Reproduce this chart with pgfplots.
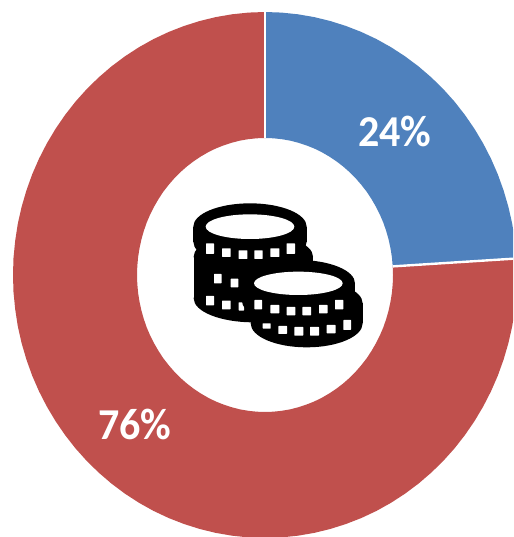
\documentclass[border=0pt]{standalone}
\usepackage{pgfplots}
\usepackage{fontspec}
\setmainfont{Carlito}
\pgfplotsset{compat=1.18}
\definecolor{blueseg}{HTML}{4F81BD}
\definecolor{redseg}{HTML}{C0504D}
\newcommand{\win}[4]{\fill[white,rounded corners=0.5pt] (#1,#3) rectangle (#2,#4);}
\begin{document}
\begin{tikzpicture}
\useasboundingbox (0,0) rectangle (513pt,537pt);
\begin{axis}[at={(0,0)},anchor=south west,width=513pt,height=537pt,scale only axis,
  hide axis,xmin=-265,xmax=248,ymin=-262,ymax=275,clip=true]
% 24% segment
\addplot[fill=blueseg,draw=none] coordinates {
 (0,263)(16.5,262.4)(32.9,260.7)(49.2,257.9)(65.2,254)(81,249)(96.4,243)(111.5,235.9)(126,227.8)(140,218.7)(153.4,208.7)(166.2,197.7)(178.2,186)(189.5,173.4)(199.9,160.1)(209.5,146.1)(218.2,131.5)(226,116.3)(232.8,100.7)(238.6,84.5)(243.4,68.1)(247.2,51.3)(249.8,34.3)(251.5,16.5)
 (127.7,8.6)(126.9,17.9)(125.5,26.7)(123.6,35.5)(121.2,44)(118.3,52.4)(114.8,60.6)(110.8,68.5)(106.4,76.1)(101.6,83.4)(96.2,90.3)(90.5,96.9)(84.4,103)(77.9,108.7)(71.1,113.9)(64,118.6)(56.6,122.9)(49,126.6)(41.1,129.7)(33.1,132.3)(25,134.4)(16.7,135.8)(8.4,136.7)(0,137)} -- cycle;
% 76% segment
\addplot[fill=redseg,draw=none] coordinates {
 (251.5,16.5)(252,0)(251.5,-17.2)(249.8,-34.3)(247.2,-51.3)(243.4,-68.1)(238.6,-84.5)(232.8,-100.7)(226,-116.3)(218.2,-131.5)(209.5,-146.1)(199.9,-160.1)(189.5,-173.4)(178.2,-186)(166.2,-197.7)(153.4,-208.7)(140,-218.7)(126,-227.8)(111.5,-235.9)(96.4,-243)(81,-249)(65.2,-254)(49.2,-257.9)(32.9,-260.7)(16.5,-262.4)(0,-263)
 (-16.5,-262.4)(-32.9,-260.7)(-49.2,-257.9)(-65.2,-254)(-81,-249)(-96.4,-243)(-111.5,-235.9)(-126,-227.8)(-140,-218.7)(-153.4,-208.7)(-166.2,-197.7)(-178.2,-186)(-189.5,-173.4)(-199.9,-160.1)(-209.5,-146.1)(-218.2,-131.5)(-226,-116.3)(-232.8,-100.7)(-238.6,-84.5)(-243.4,-68.1)(-247.2,-51.3)(-249.8,-34.3)(-251.5,-17.2)(-252,0)
 (-251.5,17.2)(-249.8,34.3)(-247.2,51.3)(-243.4,68.1)(-238.6,84.5)(-232.8,100.7)(-226,116.3)(-218.2,131.5)(-209.5,146.1)(-199.9,160.1)(-189.5,173.4)(-178.2,186)(-166.2,197.7)(-153.4,208.7)(-140,218.7)(-126,227.8)(-111.5,235.9)(-96.4,243)(-81,249)(-65.2,254)(-49.2,257.9)(-32.9,260.7)(-16.5,262.4)(0,263)
 (0,137)(-8.4,136.7)(-16.7,135.8)(-25,134.4)(-33.1,132.3)(-41.1,129.7)(-49,126.6)(-56.6,122.9)(-64,118.6)(-71.1,113.9)(-77.9,108.7)(-84.4,103)(-90.5,96.9)(-96.2,90.3)(-101.6,83.4)(-106.4,76.1)(-110.8,68.5)(-114.8,60.6)(-118.3,52.4)(-121.2,44)(-123.6,35.5)(-125.5,26.7)(-126.9,17.9)(-127.7,9)(-128,0)
 (-127.7,-9)(-126.9,-17.9)(-125.5,-26.7)(-123.6,-35.5)(-121.2,-44)(-118.3,-52.4)(-114.8,-60.6)(-110.8,-68.5)(-106.4,-76.1)(-101.6,-83.4)(-96.2,-90.3)(-90.5,-96.9)(-84.4,-103)(-77.9,-108.7)(-71.1,-113.9)(-64,-118.6)(-56.6,-122.9)(-49,-126.6)(-41.1,-129.7)(-33.1,-132.3)(-25,-134.4)(-16.7,-135.8)(-8.4,-136.7)(0,-137)
 (8.4,-136.7)(16.7,-135.8)(25,-134.4)(33.1,-132.3)(41.1,-129.7)(49,-126.6)(56.6,-122.9)(64,-118.6)(71.1,-113.9)(77.9,-108.7)(84.4,-103)(90.5,-96.9)(96.2,-90.3)(101.6,-83.4)(106.4,-76.1)(110.8,-68.5)(114.8,-60.6)(118.3,-52.4)(121.2,-44)(123.6,-35.5)(125.5,-26.7)(126.9,-17.9)(127.7,-9)(128,0)(127.7,8.6)} -- cycle;
% separators
\addplot[white,line width=2.4pt] coordinates {(0,137)(0,264)};
\addplot[white,line width=2.4pt] coordinates {(127.7,8.6)(253,16.6)};
\node[text=white,font=\bfseries\fontsize{42}{42}\selectfont,yscale=1.05] at (axis cs:130,144) {24\%};
\node[text=white,font=\bfseries\fontsize{42}{42}\selectfont,yscale=1.05] at (axis cs:-130,-149) {76\%};
\end{axis}
% coins icon
\begin{scope}[shift={(170pt,357pt)},x=0.33333pt,y=-0.33333pt]
\def\coin#1#2#3#4{%
  \fill[black] (#1,#2) ellipse [x radius=#3,y radius=70];
  \fill[black] (#1-#3,#2) rectangle (#1+#3,#2+#4);
  \fill[black] (#1,#2+#4) ellipse [x radius=#3,y radius=72];}
% back coin
\coin{250}{230}{179}{125}
\win{132}{155}{282}{310}\win{182}{205}{296}{322}
\win{108}{132}{348}{376}\win{156}{182}{362}{388}\win{206}{222}{367}{392}
% top coin
\coin{240}{140}{170}{45}
\fill[white] (240,140) ellipse [x radius=133,y radius=37];
\win{108}{132}{190}{222}\win{156}{182}{205}{231}\win{206}{232}{211}{237}\win{253}{278}{211}{237}\win{301}{328}{205}{231}\win{350}{375}{190}{222}
% lowest front coin
\coin{410}{370}{168}{60}
% front coin
\coin{385}{310}{170}{50}
\fill[white] (385,310) ellipse [x radius=133,y radius=35];
\win{253}{276}{360}{388}\win{301}{328}{375}{400}\win{350}{376}{381}{406}\win{397}{423}{381}{406}\win{447}{473}{375}{400}\win{495}{520}{360}{388}
\win{278}{302}{430}{446}\win{325}{351}{438}{462}\win{373}{400}{441}{467}\win{420}{447}{441}{467}\win{470}{497}{435}{460}\win{520}{543}{420}{450}
\end{scope}
\end{tikzpicture}
\end{document}
